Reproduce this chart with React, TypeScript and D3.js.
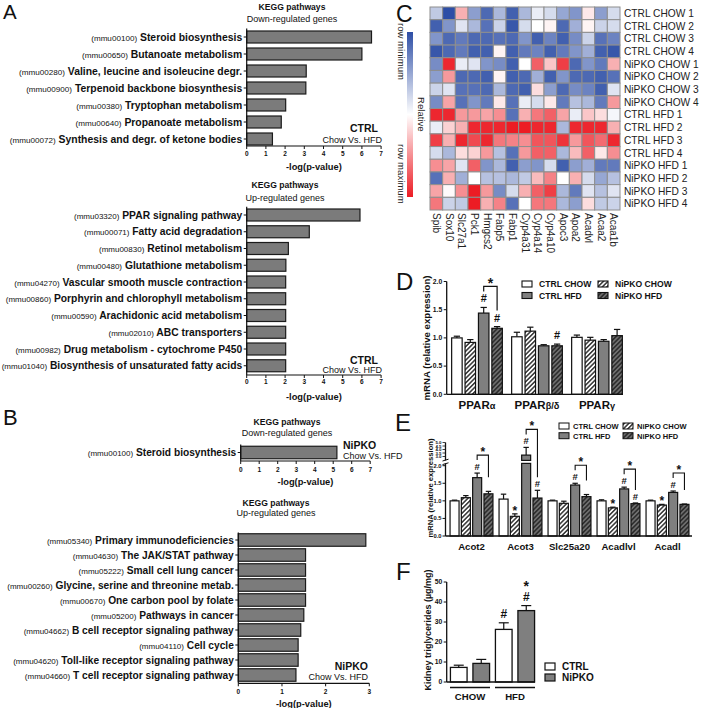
import React from "react";
import * as d3 from "d3";

const FONT = "'Liberation Sans', Arial, Helvetica, sans-serif";

// ---------- Panel A (CTRL, Chow vs HFD) ----------
const aDownCodes = ["mmu00100", "mmu00650", "mmu00280", "mmu00900", "mmu00380", "mmu00640", "mmu00072"];
const aDownNames = [
  "Steroid biosynthesis",
  "Butanoate metabolism",
  "Valine, leucine and isoleucine degr.",
  "Terpenoid backbone biosynthesis",
  "Tryptophan metabolism",
  "Propanoate metabolism",
  "Synthesis and degr. of ketone bodies",
];
const aDownValues = [6.5, 6.0, 3.1, 3.08, 2.03, 1.8, 1.34];

const aUpCodes = ["mmu03320", "mmu00071", "mmu00830", "mmu00480", "mmu04270", "mmu00860", "mmu00590", "mmu02010", "mmu00982", "mmu01040"];
const aUpNames = [
  "PPAR signaling pathway",
  "Fatty acid degradation",
  "Retinol metabolism",
  "Glutathione metabolism",
  "Vascular smooth muscle contraction",
  "Porphyrin and chlorophyll metabolism",
  "Arachidonic acid metabolism",
  "ABC transporters",
  "Drug metabolism - cytochrome P450",
  "Biosynthesis of unsaturated fatty acids",
];
const aUpValues = [5.9, 3.26, 2.17, 2.04, 2.03, 2.03, 2.03, 2.03, 2.03, 2.03];

// ---------- Panel B (NiPKO, Chow vs HFD) ----------
const bDownCodes = ["mmu00100"];
const bDownNames = ["Steroid biosynthesis"];
const bDownValues = [5.2];

const bUpCodes = ["mmu05340", "mmu04630", "mmu05222", "mmu00260", "mmu00670", "mmu05200", "mmu04662", "mmu04110", "mmu04620", "mmu04660"];
const bUpNames = [
  "Primary immunodeficiencies",
  "The JAK/STAT pathway",
  "Small cell lung cancer",
  "Glycine, serine and threonine metab.",
  "One carbon pool by folate",
  "Pathways in cancer",
  "B cell receptor signaling pathway",
  "Cell cycle",
  "Toll-like receptor signaling pathway",
  "T cell receptor signaling pathway",
];
const bUpValues = [2.92, 1.54, 1.54, 1.54, 1.54, 1.5, 1.43, 1.37, 1.37, 1.32];

// ---------- Panel C (heatmap) ----------
const heatGenes = ["Spib", "Sox10", "Slc27a1", "Pck1", "Hmgcs2", "Fabp5", "Fabp1", "Cyp4a31", "Cyp4a14", "Cyp4a10", "Apoc3", "Apoa2", "Acadvl", "Acaa2", "Acaa1b"];
const heatSamples = [
  "CTRL CHOW 1", "CTRL CHOW 2", "CTRL CHOW 3", "CTRL CHOW 4",
  "NiPKO CHOW 1", "NiPKO CHOW 2", "NiPKO CHOW 3", "NiPKO CHOW 4",
  "CTRL HFD 1", "CTRL HFD 2", "CTRL HFD 3", "CTRL HFD 4",
  "NiPKO HFD 1", "NiPKO HFD 2", "NiPKO HFD 3", "NiPKO HFD 4",
];
const heatValues = [
  [-0.3, -1, 0.35, -0.55, -0.85, -0.4, -0.9, -0.4, -0.1, -0.2, -0.5, -0.6, 0.1, -0.55, -0.2],
  [-0.9, -0.6, -0.15, -0.4, -0.8, -0.25, -0.95, -0.2, 0, 0.05, -0.85, -0.45, 0.05, -0.25, -0.2],
  [-0.6, -0.85, -0.75, -0.85, -0.85, -0.8, -0.85, -0.6, -0.9, -0.7, -0.9, -0.65, -0.25, -0.8, -0.7],
  [-0.95, -0.85, -0.75, -0.9, -0.9, 0.05, -0.9, -0.75, -0.7, -0.9, -0.75, -0.6, -0.45, -0.9, -0.95],
  [-0.65, 0.95, -0.1, -0.15, -0.6, -0.65, -0.9, 0, 0.7, 0.25, 0.85, -0.85, -0.6, -0.75, 0.35],
  [-0.55, 0.45, -0.85, -0.85, -0.9, 0.05, -0.9, -0.85, -0.45, -0.9, -0.6, -0.85, -0.85, -0.9, -0.8],
  [-0.25, -0.15, -0.8, -0.8, -0.85, -0.4, -0.85, -0.9, 0.15, -0.55, -0.85, -0.65, -0.7, -0.9, -0.15],
  [-0.65, 0.4, -0.8, -0.6, -0.75, 0.1, -0.8, -0.1, -0.2, 0.1, -0.75, -0.35, -0.4, -0.75, 0.45],
  [0.95, 0.95, 0.45, 0.45, 0.4, 0.5, -0.8, 0.35, 0.6, 0.7, 0.4, -0.1, 0.25, 0.15, -0.05],
  [-0.1, 0.2, 0.35, 0.95, 0.95, 0.95, 1, 1, 0.95, 0.95, -0.4, 0.95, 0.95, 0.95, 0.35],
  [0.85, 0.35, 0.95, 0.8, 0.95, 0.6, 0.55, 0.5, 0.75, 0.75, 0.9, 0.45, 0.75, 0.65, 0.95],
  [-0.2, -0.4, 0.15, 0.2, 0.45, -0.35, -0.8, 0.45, 0.7, 0.7, -0.4, 0.3, 0.7, 0.1, 0.5],
  [0.5, 0.4, -0.15, 0.7, -0.6, -0.4, -0.9, -0.55, -0.6, -0.2, -0.9, -0.55, -0.45, -0.75, -0.75],
  [-0.8, 0.35, -0.45, 0, -0.35, -0.35, -0.4, -0.3, 0.3, 0.55, 0, 0.35, -0.2, -0.5, -0.35],
  [0.4, 0.02, 0.5, 1, 0.45, -0.65, -0.2, 0.35, 0.7, 0.85, -0.4, -0.75, -0.15, -0.35, -0.15],
  [0.6, -0.25, -0.3, 1, 0.35, 0.55, -0.8, 0, 0.6, 0.6, -0.4, -0.55, 0.15, -0.3, -0.25],
];

// ---------- Panel D (PPAR mRNA) ----------
const seriesNames = ["CTRL CHOW", "NiPKO CHOW", "CTRL HFD", "NiPKO HFD"];
const dGenes = ["PPARα", "PPARβ/δ", "PPARγ"];
const dCtrlChow = [1.0, 1.02, 1.01];
const dCtrlChowErr = [0.03, 0.08, 0.04];
const dNipkoChow = [0.92, 1.12, 0.96];
const dNipkoChowErr = [0.05, 0.07, 0.05];
const dCtrlHfd = [1.44, 0.86, 0.94];
const dCtrlHfdErr = [0.1, 0.02, 0.03];
const dNipkoHfd = [1.17, 0.86, 1.04];
const dNipkoHfdErr = [0.03, 0.03, 0.11];
const dTicks = [0, 0.5, 1, 1.5, 2];
const dHash = [[0, 2], [0, 3], [1, 3]];
const dBrackets = [[0, 2, 3]];

// ---------- Panel E (FAO genes) ----------
const eGenes = ["Acot2", "Acot3", "Slc25a20", "Acadlvl", "Acadl"];
const eCtrlChow = [1.0, 1.05, 1.0, 1.0, 1.0];
const eCtrlChowErr = [0.02, 0.14, 0.02, 0.03, 0.02];
const eNipkoChow = [1.09, 0.56, 0.93, 0.8, 0.88];
const eNipkoChowErr = [0.06, 0.07, 0.06, 0.02, 0.02];
const eCtrlHfd = [1.66, 3.2, 1.45, 1.34, 1.24];
const eCtrlHfdErr = [0.13, 1.1, 0.05, 0.05, 0.04];
const eNipkoHfd = [1.2, 1.08, 1.12, 0.92, 0.9];
const eNipkoHfdErr = [0.07, 0.22, 0.06, 0.02, 0.01];
const eTicksLow = [0, 0.5, 1, 1.5, 2];
const eTicksHigh = [3, 3.5, 4, 4.5, 5];
const eHash = [[0, 2], [1, 2], [1, 3], [2, 2], [3, 2], [3, 3], [4, 2]];
const eStar = [[1, 1], [3, 1], [4, 1]];
const eBrackets = [[0, 2, 3], [1, 2, 3], [2, 2, 3], [3, 2, 3], [4, 2, 3]];

// ---------- Panel F (kidney triglycerides) ----------
const fDiets = ["CHOW", "HFD"];
const fGenotypes = ["CTRL", "NiPKO"];
const fCtrl = [7.3, 26.3];
const fCtrlErr = [1.1, 3.3];
const fNipko = [9.3, 35.7];
const fNipkoErr = [2.0, 2.5];
const fTicks = [0, 10, 20, 30, 40, 50];
const fHash = [[1, 0], [1, 1]];
const fStar = [[1, 1]];

const SERIES_FILLS = ["#ffffff", "url(#hatchW)", "#7f7f7f", "url(#hatchD)"];
const INK = "#111";

function HBarPanel(p: any) {
  const { codes, names, values, xMax, x0, unit, yFirst, step, barH, axisY, tickY, xlabY, titleX, titleY, sub, subY, nameSize, codeSize } = p;
  const x = d3.scaleLinear().domain([0, xMax]).range([x0, x0 + xMax * unit]);
  const n = values.length;
  const pad = 1 - barH / step;
  const y = d3
    .scaleBand<number>()
    .domain(d3.range(n))
    .range([yFirst - step / 2, yFirst - step / 2 + n * step])
    .paddingInner(pad)
    .paddingOuter(pad / 2);
  const ticks = d3.range(0, xMax + 1);
  return (
    <g>
      <text x={titleX} y={titleY} fontSize={8.6} fontWeight="bold" textAnchor="middle" fill={INK}>KEGG pathways</text>
      <text x={titleX} y={subY} fontSize={9} textAnchor="middle" fill={INK}>{sub}</text>
      {values.map((v: number, i: number) => (
        <rect key={"b" + i} x={x(0)} y={y(i)} width={x(v) - x(0)} height={y.bandwidth()} fill="#7b7b7b" stroke="#1b1b1b" strokeWidth={1.2} />
      ))}
      <line x1={x(0)} x2={x(0)} y1={yFirst - step / 2} y2={axisY} stroke={INK} strokeWidth={1.2} />
      {values.map((v: number, i: number) => (
        <line key={"t" + i} x1={x(0) - 3} x2={x(0)} y1={(y(i) as number) + barH / 2} y2={(y(i) as number) + barH / 2} stroke={INK} strokeWidth={1} />
      ))}
      <line x1={x(0)} x2={x(xMax)} y1={axisY} y2={axisY} stroke={INK} strokeWidth={1.2} />
      {ticks.map((t) => (
        <g key={"x" + t}>
          <line x1={x(t)} x2={x(t)} y1={axisY} y2={axisY + 3} stroke={INK} strokeWidth={1} />
          <text x={x(t)} y={tickY} fontSize={6.5} fontWeight="bold" textAnchor="middle" fill={INK}>{t}</text>
        </g>
      ))}
      <text x={(x(0) + x(xMax)) / 2} y={xlabY} fontSize={9.3} fontWeight="bold" textAnchor="middle" fill={INK}>-log(p-value)</text>
      {names.map((nm: string, i: number) => (
        <text key={"l" + i} x={x(0) - 4.5} y={(y(i) as number) + barH / 2 + 3.6} textAnchor="end" fill={INK}>
          <tspan fontSize={codeSize}>({codes[i]})</tspan>
          <tspan fontSize={nameSize} fontWeight="bold">{" " + nm}</tspan>
        </text>
      ))}
    </g>
  );
}

function Heatmap() {
  const x = d3.scaleBand().domain(heatGenes).range([430, 620]);
  const y = d3.scaleBand().domain(heatSamples).range([7, 210]);
  const color = d3.scaleLinear<string>().domain([-1, 0, 1]).range(["#2d4ea6", "#ffffff", "#ec1c24"]).interpolate(d3.interpolateRgb);
  return (
    <g>
      {heatSamples.map((s, r) =>
        heatGenes.map((g, c) => (
          <rect key={r + "-" + c} x={x(g)} y={y(s)} width={x.bandwidth()} height={y.bandwidth()} fill={color(heatValues[r][c])} stroke="#8e8e8e" strokeWidth={1} />
        ))
      )}
      {heatSamples.map((s) => (
        <text key={s} x={624} y={(y(s) as number) + y.bandwidth() / 2 + 3.6} fontSize={10.2} fill="#222">{s}</text>
      ))}
      {heatGenes.map((g) => (
        <text key={g} transform={`translate(${(x(g) as number) + x.bandwidth() / 2},213) rotate(90)`} dy="0.35em" fontSize={10} fill="#222">{g}</text>
      ))}
      <rect x={407} y={32} width={6} height={165} fill="url(#cbar)" />
      <text transform="translate(401,23) rotate(90)" dy="0.35em" fontSize={9.6} fill="#222">row minimum</text>
      <text transform="translate(421,97) rotate(90)" dy="0.35em" fontSize={9.6} fill="#222">Relative</text>
      <text transform="translate(401,144) rotate(90)" dy="0.35em" fontSize={9.6} fill="#222">row maximum</text>
    </g>
  );
}

function ErrBar({ cx, w, yTop, yErr }: any) {
  const cap = w * 0.3;
  return (
    <g>
      <line x1={cx} x2={cx} y1={yTop} y2={yErr} stroke={INK} strokeWidth={1.2} />
      <line x1={cx - cap} x2={cx + cap} y1={yErr} y2={yErr} stroke={INK} strokeWidth={1.2} />
    </g>
  );
}

function GeneLabel({ name, x, y, size }: any) {
  const base = name.slice(0, 4);
  const rest = name.slice(4);
  if (base === "PPAR") {
    return (
      <text x={x} y={y} textAnchor="middle" fontWeight="bold" fontSize={size} fill={INK}>
        {base}
        <tspan fontSize={size * 0.8}>{rest}</tspan>
      </text>
    );
  }
  return <text x={x} y={y} textAnchor="middle" fontWeight="bold" fontSize={size} fill={INK}>{name}</text>;
}

function PanelD() {
  const means = [dCtrlChow, dNipkoChow, dCtrlHfd, dNipkoHfd];
  const errs = [dCtrlChowErr, dNipkoChowErr, dCtrlHfdErr, dNipkoHfdErr];
  const y = d3.scaleLinear().domain([0, 2]).range([394.3, 281.5]);
  const xg = d3.scaleBand().domain(dGenes).range([447, 627]);
  const xs = d3.scaleBand<number>().domain([0, 1, 2, 3]).range([0, 50.7]).paddingInner(0.216);
  const ax = 446.7;
  const bx = (g: number, s: number) => (xg(dGenes[g]) as number) + xg.bandwidth() / 2 - 25.35 + (xs(s) as number);
  const bw = xs.bandwidth();
  const errTop = (g: number, s: number) => y(means[s][g] + errs[s][g]);
  const hashSet = new Set(dHash.map((h) => h[0] + "-" + h[1]));
  const hashBase = (g: number, s: number) => errTop(g, s) - 5;
  const topOf = (g: number, s: number) => (hashSet.has(g + "-" + s) ? hashBase(g, s) - 8 : errTop(g, s));
  return (
    <g>
      <text x={396} y={290} fontSize={24} fill={INK}>D</text>
      {means.map((m, s) =>
        m.map((v, g) => (
          <g key={s + "-" + g}>
            <ErrBar cx={bx(g, s) + bw / 2} w={bw} yTop={y(v)} yErr={errTop(g, s)} />
            <rect x={bx(g, s)} y={y(v)} width={bw} height={y(0) - y(v)} fill={SERIES_FILLS[s]} stroke={INK} strokeWidth={1.2} />
          </g>
        ))
      )}
      <line x1={ax} x2={ax} y1={y(2)} y2={y(0)} stroke={INK} strokeWidth={1.3} />
      <line x1={ax} x2={623} y1={y(0)} y2={y(0)} stroke={INK} strokeWidth={1.3} />
      {dTicks.map((t) => (
        <g key={t}>
          <line x1={ax - 3} x2={ax} y1={y(t)} y2={y(t)} stroke={INK} strokeWidth={1} />
          <text x={ax - 4.5} y={y(t) + 2.3} fontSize={6.8} fontWeight="bold" textAnchor="end" fill={INK}>{t.toFixed(1)}</text>
        </g>
      ))}
      {dGenes.map((g) => (
        <GeneLabel key={g} name={g} x={(xg(g) as number) + xg.bandwidth() / 2} y={408.5} size={11.5} />
      ))}
      <text transform="translate(427,338) rotate(-90)" dy="0.35em" textAnchor="middle" fontSize={9.6} fontWeight="bold" fill={INK}>mRNA (relative expression)</text>
      {dHash.map(([g, s]) => (
        <text key={"h" + g + s} x={bx(g, s) + bw / 2} y={hashBase(g, s)} fontSize={11} fontWeight="bold" textAnchor="middle" fill={INK}>#</text>
      ))}
      {dBrackets.map(([g, a, b]) => {
        const xa = bx(g, a) + bw / 2;
        const xb = bx(g, b) + bw / 2;
        const la = topOf(g, a) - 3;
        const top = la - 5;
        const lb = hashSet.has(g + "-" + b) ? topOf(g, b) - 3 : errTop(g, b) - 14;
        return (
          <g key={"br" + g}>
            <path d={`M${xa},${la}V${top}H${xb}V${lb}`} fill="none" stroke={INK} strokeWidth={1.2} />
            <text x={(xa + xb) / 2} y={top + 1.5} fontSize={14} fontWeight="bold" textAnchor="middle" fill={INK}>*</text>
          </g>
        );
      })}
      {seriesNames.map((nm, s) => {
        const col = s === 0 || s === 2 ? 0 : 1;
        const row = s < 2 ? 0 : 1;
        const lx = col === 0 ? 522 : 598;
        const ly = row === 0 ? 281 : 292.5;
        return (
          <g key={nm}>
            <rect x={lx} y={ly} width={10} height={6} fill={SERIES_FILLS[s]} stroke={INK} strokeWidth={1.1} />
            <text x={lx + 17} y={ly + 6} fontSize={8.6} fontWeight="bold" fill={INK}>{nm}</text>
          </g>
        );
      })}
    </g>
  );
}

function PanelE() {
  const means = [eCtrlChow, eNipkoChow, eCtrlHfd, eNipkoHfd];
  const errs = [eCtrlChowErr, eNipkoChowErr, eCtrlHfdErr, eNipkoHfdErr];
  const yL = d3.scaleLinear().domain([0, 2]).range([536, 465.7]);
  const yU = d3.scaleLinear().domain([2.5, 5]).range([460, 442.5]);
  const yv = (v: number) => (v <= 2.05 ? yL(v) : yU(v));
  const breakLow = 463.4;
  const breakHigh = 460.4;
  const xg = d3.scaleBand().domain(eGenes).range([447, 692]);
  const xs = d3.scaleBand<number>().domain([0, 1, 2, 3]).range([0, 42.9]).paddingInner(0.2035);
  const ax = 445.5;
  const bw = xs.bandwidth();
  const bx = (g: number, s: number) => (xg(eGenes[g]) as number) + xg.bandwidth() / 2 - 21.45 + (xs(s) as number);
  const errTop = (g: number, s: number) => yv(means[s][g] + errs[s][g]);
  const hashSet = new Set(eHash.map((h) => h[0] + "-" + h[1]));
  const hashBase = (g: number, s: number) => errTop(g, s) - 3;
  const topOf = (g: number, s: number) => (hashSet.has(g + "-" + s) ? hashBase(g, s) - 7 : errTop(g, s));
  return (
    <g>
      <text x={395} y={431} fontSize={24} fill={INK}>E</text>
      {means.map((m, s) =>
        m.map((v, g) => {
          const x = bx(g, s);
          const cx = x + bw / 2;
          if (v > 2.05) {
            return (
              <g key={s + "-" + g}>
                <ErrBar cx={cx} w={bw} yTop={yv(v)} yErr={errTop(g, s)} />
                <rect x={x} y={breakLow} width={bw} height={yL(0) - breakLow} fill={SERIES_FILLS[s]} stroke={INK} strokeWidth={1.2} />
                <rect x={x} y={yv(v)} width={bw} height={breakHigh - yv(v)} fill={SERIES_FILLS[s]} stroke={INK} strokeWidth={1.2} />
              </g>
            );
          }
          return (
            <g key={s + "-" + g}>
              <ErrBar cx={cx} w={bw} yTop={yv(v)} yErr={errTop(g, s)} />
              <rect x={x} y={yv(v)} width={bw} height={yL(0) - yv(v)} fill={SERIES_FILLS[s]} stroke={INK} strokeWidth={1.2} />
            </g>
          );
        })
      )}
      <line x1={ax} x2={ax} y1={breakLow} y2={yL(0)} stroke={INK} strokeWidth={1.3} />
      <line x1={ax} x2={ax} y1={yU(5)} y2={breakHigh} stroke={INK} strokeWidth={1.3} />
      <line x1={ax - 3} x2={ax + 3} y1={breakLow + 1.2} y2={breakLow - 0.6} stroke={INK} strokeWidth={1} />
      <line x1={ax - 3} x2={ax + 3} y1={breakHigh + 0.6} y2={breakHigh - 1.2} stroke={INK} strokeWidth={1} />
      <line x1={ax} x2={692} y1={yL(0)} y2={yL(0)} stroke={INK} strokeWidth={1.3} />
      {eTicksLow.map((t) => (
        <g key={"l" + t}>
          <line x1={ax - 3} x2={ax} y1={yL(t)} y2={yL(t)} stroke={INK} strokeWidth={1} />
          <text x={ax - 4} y={yL(t) + 2} fontSize={5.8} fontWeight="bold" textAnchor="end" fill={INK}>{t.toFixed(1)}</text>
        </g>
      ))}
      {eTicksHigh.map((t) => (
        <g key={"u" + t}>
          <line x1={ax - 3} x2={ax} y1={yU(t)} y2={yU(t)} stroke={INK} strokeWidth={0.8} />
          <text x={ax - 4} y={yU(t) + 1.6} fontSize={4.4} fontWeight="bold" textAnchor="end" fill={INK}>{t.toFixed(1)}</text>
        </g>
      ))}
      {eGenes.map((g) => (
        <text key={g} x={(xg(g) as number) + xg.bandwidth() / 2} y={549.5} fontSize={9.6} fontWeight="bold" textAnchor="middle" fill={INK}>{g}</text>
      ))}
      <text transform="translate(430,488) rotate(-90)" dy="0.35em" textAnchor="middle" fontSize={7.6} fontWeight="bold" fill={INK}>mRNA (relative expression)</text>
      {eHash.map(([g, s]) => (
        <text key={"h" + g + s} x={bx(g, s) + bw / 2} y={hashBase(g, s)} fontSize={9.5} fontWeight="bold" textAnchor="middle" fill={INK}>#</text>
      ))}
      {eStar.map(([g, s]) => (
        <text key={"s" + g + s} x={bx(g, s) + bw / 2} y={errTop(g, s) + 1} fontSize={12} fontWeight="bold" textAnchor="middle" fill={INK}>*</text>
      ))}
      {eBrackets.map(([g, a, b]) => {
        const xa = bx(g, a) + bw / 2;
        const xb = bx(g, b) + bw / 2;
        const la = topOf(g, a) - 3;
        const top = la - 5;
        const lb = hashSet.has(g + "-" + b) ? topOf(g, b) - 3 : errTop(g, b) - 14;
        return (
          <g key={"br" + g}>
            <path d={`M${xa},${la}V${top}H${xb}V${lb}`} fill="none" stroke={INK} strokeWidth={1.1} />
            <text x={(xa + xb) / 2} y={top + 0.5} fontSize={12} fontWeight="bold" textAnchor="middle" fill={INK}>*</text>
          </g>
        );
      })}
      {seriesNames.map((nm, s) => {
        const col = s === 0 || s === 2 ? 0 : 1;
        const row = s < 2 ? 0 : 1;
        const lx = col === 0 ? 559 : 623;
        const ly = row === 0 ? 423 : 432.7;
        return (
          <g key={nm}>
            <rect x={lx} y={ly} width={10} height={6} fill={SERIES_FILLS[s]} stroke={INK} strokeWidth={1} />
            <text x={lx + 14} y={ly + 5.8} fontSize={7.5} fontWeight="bold" fill={INK}>{nm}</text>
          </g>
        );
      })}
    </g>
  );
}

function PanelF() {
  const means = [fCtrl, fNipko];
  const errs = [fCtrlErr, fNipkoErr];
  const fills = ["#ffffff", "#7f7f7f"];
  const y = d3.scaleLinear().domain([0, 50]).range([682, 582]);
  const xg = d3.scaleBand().domain(fDiets).range([447.5, 537.5]);
  const xs = d3.scaleBand().domain(fGenotypes).range([0, xg.bandwidth()]).paddingInner(0.26).paddingOuter(0.13);
  const ax = 446.7;
  const bw = xs.bandwidth();
  const bx = (d: number, s: number) => (xg(fDiets[d]) as number) + (xs(fGenotypes[s]) as number);
  const errTop = (d: number, s: number) => y(means[s][d] + errs[s][d]);
  const hashBase = (d: number, s: number) => errTop(d, s) - 4.5;
  return (
    <g>
      <text x={396} y={580} fontSize={24} fill={INK}>F</text>
      {means.map((m, s) =>
        m.map((v, d) => (
          <g key={s + "-" + d}>
            <ErrBar cx={bx(d, s) + bw / 2} w={bw} yTop={y(v)} yErr={errTop(d, s)} />
            <rect x={bx(d, s)} y={y(v)} width={bw} height={y(0) - y(v)} fill={fills[s]} stroke={INK} strokeWidth={1.3} />
          </g>
        ))
      )}
      <line x1={ax} x2={ax} y1={y(50)} y2={y(0)} stroke={INK} strokeWidth={1.3} />
      <line x1={ax} x2={535} y1={y(0)} y2={y(0)} stroke={INK} strokeWidth={1.3} />
      {fTicks.map((t) => (
        <g key={t}>
          <line x1={ax - 3} x2={ax} y1={y(t)} y2={y(t)} stroke={INK} strokeWidth={1} />
          <text x={ax - 4.5} y={y(t) + 2.3} fontSize={6.8} fontWeight="bold" textAnchor="end" fill={INK}>{t}</text>
        </g>
      ))}
      {fDiets.map((d) => (
        <g key={d}>
          <line x1={(xg(d) as number) + 2.5} x2={(xg(d) as number) + xg.bandwidth() - 2.5} y1={687.5} y2={687.5} stroke={INK} strokeWidth={1.3} />
          <text x={(xg(d) as number) + xg.bandwidth() / 2} y={699.5} fontSize={9.6} fontWeight="bold" textAnchor="middle" fill={INK}>{d}</text>
        </g>
      ))}
      <text transform="translate(428,630) rotate(-90)" dy="0.35em" textAnchor="middle" fontSize={9} fontWeight="bold" fill={INK}>Kidney triglycerides (µg/mg)</text>
      {fHash.map(([d, s]) => (
        <text key={"h" + d + s} x={bx(d, s) + bw / 2} y={hashBase(d, s)} fontSize={12} fontWeight="bold" textAnchor="middle" fill={INK}>#</text>
      ))}
      {fStar.map(([d, s]) => (
        <text key={"s" + d + s} x={bx(d, s) + bw / 2} y={hashBase(d, s) - 10} fontSize={14} fontWeight="bold" textAnchor="middle" fill={INK}>*</text>
      ))}
      {fGenotypes.map((g, s) => (
        <g key={g}>
          <rect x={545} y={663 + s * 11} width={10} height={7} fill={fills[s]} stroke={INK} strokeWidth={1.2} />
          <text x={562} y={670 + s * 11} fontSize={10} fontWeight="bold" fill={INK}>{g}</text>
        </g>
      ))}
    </g>
  );
}

export default function App() {
  return (
    <svg width={701} height={708} viewBox="0 0 701 708" style={{ position: "absolute", left: 0, top: 0, background: "#fff" }} fontFamily={FONT}>
      <defs>
        <pattern id="hatchW" patternUnits="userSpaceOnUse" width={3.2} height={3.2} patternTransform="rotate(45)">
          <rect width={3.2} height={3.2} fill="#ffffff" />
          <line x1={1.6} y1={0} x2={1.6} y2={3.2} stroke="#000" strokeWidth={1.2} />
        </pattern>
        <pattern id="hatchD" patternUnits="userSpaceOnUse" width={3.2} height={3.2} patternTransform="rotate(45)">
          <rect width={3.2} height={3.2} fill="#6e6e6e" />
          <line x1={1.6} y1={0} x2={1.6} y2={3.2} stroke="#111" strokeWidth={1.1} />
        </pattern>
        <linearGradient id="cbar" x1="0" y1="0" x2="0" y2="1">
          <stop offset="0" stopColor="#2d4ea6" />
          <stop offset="0.5" stopColor="#ffffff" />
          <stop offset="1" stopColor="#ec1c24" />
        </linearGradient>
      </defs>
      <rect width={701} height={708} fill="#fff" />

      <text x={3} y={19} fontSize={20.5} fill={INK}>A</text>
      <HBarPanel codes={aDownCodes} names={aDownNames} values={aDownValues} xMax={7} x0={246.7} unit={19.2}
        yFirst={37} step={17} barH={12} axisY={146} tickY={156} xlabY={170}
        titleX={292} titleY={10} sub="Down-regulated genes" subY={21.5} nameSize={10.4} codeSize={8.1} />
      <text x={378} y={132} fontSize={10.5} fontWeight="bold" textAnchor="end" fill={INK}>CTRL</text>
      <text x={382} y={142.5} fontSize={9} textAnchor="end" fill={INK}>Chow Vs. HFD</text>

      <HBarPanel codes={aUpCodes} names={aUpNames} values={aUpValues} xMax={7} x0={246.7} unit={19.2}
        yFirst={215} step={16.75} barH={12} axisY={375} tickY={384} xlabY={399.5}
        titleX={285} titleY={187.5} sub="Up-regulated genes" subY={200.5} nameSize={10.3} codeSize={8} />
      <text x={378} y={363.5} fontSize={10.5} fontWeight="bold" textAnchor="end" fill={INK}>CTRL</text>
      <text x={382} y={372.5} fontSize={9} textAnchor="end" fill={INK}>Chow Vs. HFD</text>

      <text x={3} y={425} fontSize={22} fill={INK}>B</text>
      <HBarPanel codes={bDownCodes} names={bDownNames} values={bDownValues} xMax={7} x0={240.7} unit={18.5}
        yFirst={452.5} step={16} barH={12.5} axisY={461} tickY={472.3} xlabY={485}
        titleX={287} titleY={425} sub="Down-regulated genes" subY={436} nameSize={10.2} codeSize={8} />
      <text x={343} y={448.5} fontSize={10.5} fontWeight="bold" fill={INK}>NiPKO</text>
      <text x={343} y={458.5} fontSize={9} fill={INK}>Chow Vs. HFD</text>

      <HBarPanel codes={bUpCodes} names={bUpNames} values={bUpValues} xMax={3} x0={238.3} unit={43.67}
        yFirst={540} step={15} barH={12.5} axisY={683.3} tickY={694} xlabY={706.5}
        titleX={276} titleY={506} sub="Up-regulated genes" subY={515.8} nameSize={10.2} codeSize={8} />
      <text x={368} y={669.5} fontSize={10.5} fontWeight="bold" textAnchor="end" fill={INK}>NiPKO</text>
      <text x={368} y={680.3} fontSize={9} textAnchor="end" fill={INK}>Chow Vs. HFD</text>

      <text x={396} y={22} fontSize={23} fill={INK}>C</text>
      <Heatmap />
      <PanelD />
      <PanelE />
      <PanelF />
    </svg>
  );
}
